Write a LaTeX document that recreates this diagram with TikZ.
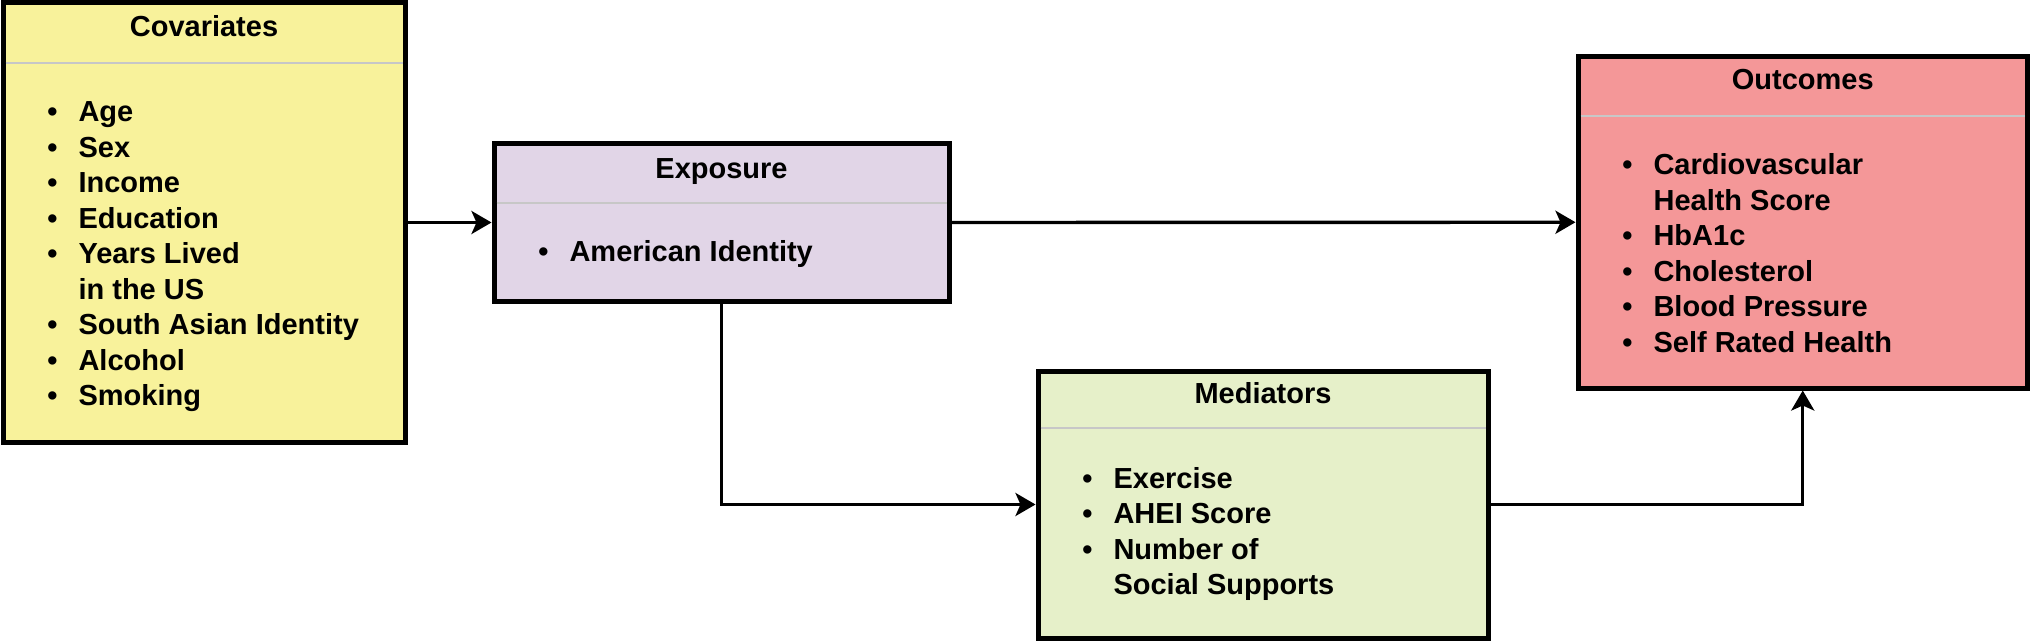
\documentclass[tikz,border=0pt]{standalone}
\usepackage{fontspec}
\setmainfont{Liberation Sans}
\usetikzlibrary{arrows.meta}
\definecolor{covfill}{RGB}{248,242,155}
\definecolor{expfill}{RGB}{225,213,231}
\definecolor{outfill}{RGB}{244,151,152}
\definecolor{medfill}{RGB}{230,240,201}
\begin{document}
\begin{tikzpicture}[x=0.5pt,y=-0.5pt,
  box/.style={draw=black, line width=2.5pt, rectangle, inner sep=0pt},
  title/.style={anchor=base, inner sep=0pt, font=\bfseries\fontsize{14.5}{17.75}\selectfont},
  items/.style={anchor=base west, inner sep=0pt, font=\bfseries\fontsize{14.5}{17.75}\selectfont},
  divider/.style={draw=black!22, line width=1.1pt},
  conn/.style={draw=black, line width=1.7pt, -{Stealth[length=10pt,width=11.5pt,inset=2.5pt]}}
]
\useasboundingbox (0,0) rectangle (2031,642);

% boxes
\node[box, fill=covfill, minimum width=201pt, minimum height=219.5pt] (cov) at (204,222.5) {};
\node[box, fill=expfill, minimum width=227.5pt, minimum height=78.5pt] (exp) at (721.5,222.5) {};
\node[box, fill=outfill, minimum width=224.75pt, minimum height=165.75pt] (out) at (1802.75,222.25) {};
\node[box, fill=medfill, minimum width=225pt, minimum height=133.5pt] (med) at (1263,504.5) {};

% dividers
\draw[divider] (5.5,63) -- (402.5,63);
\draw[divider] (496.5,203) -- (946.5,203);
\draw[divider] (1580.5,116) -- (2025,116);
\draw[divider] (1040.5,428) -- (1485.5,428);

% titles
\node[title] (covtitle) at (204,37) {Covariates};
\node[title] (exptitle) at (721.5,178) {Exposure};
\node[title] (outtitle) at (1802.75,90) {Outcomes};
\node[title] (medtitle) at (1263,403) {Mediators};

% lists
\node[items] (covlist) at (47,122) {\begin{tabular}[t]{@{}l@{\hspace{10.5pt}}l@{}}
\textbullet & Age\\
\textbullet & Sex\\
\textbullet & Income\\
\textbullet & Education\\
\textbullet & Years Lived\\
 & in the US\\
\textbullet & South Asian Identity\\
\textbullet & Alcohol\\
\textbullet & Smoking
\end{tabular}};
\node[items] (explist) at (538,262) {\begin{tabular}[t]{@{}l@{\hspace{10.5pt}}l@{}}
\textbullet & American Identity
\end{tabular}};
\node[items] (outlist) at (1622,175) {\begin{tabular}[t]{@{}l@{\hspace{10.5pt}}l@{}}
\textbullet & Cardiovascular\\
 & Health Score\\
\textbullet & HbA1c\\
\textbullet & Cholesterol\\
\textbullet & Blood Pressure\\
\textbullet & Self Rated Health
\end{tabular}};
\node[items] (medlist) at (1082,488) {\begin{tabular}[t]{@{}l@{\hspace{10.5pt}}l@{}}
\textbullet & Exercise\\
\textbullet & AHEI Score\\
\textbullet & Number of\\
 & Social Supports
\end{tabular}};

% connectors
\draw[conn] (cov.east) -- (exp.west);
\draw[conn] (exp.east) -- (out.west);
\draw[conn] (exp.south) |- (med.west);
\draw[conn] (med.east) -| (out.south);
\end{tikzpicture}
\end{document}
